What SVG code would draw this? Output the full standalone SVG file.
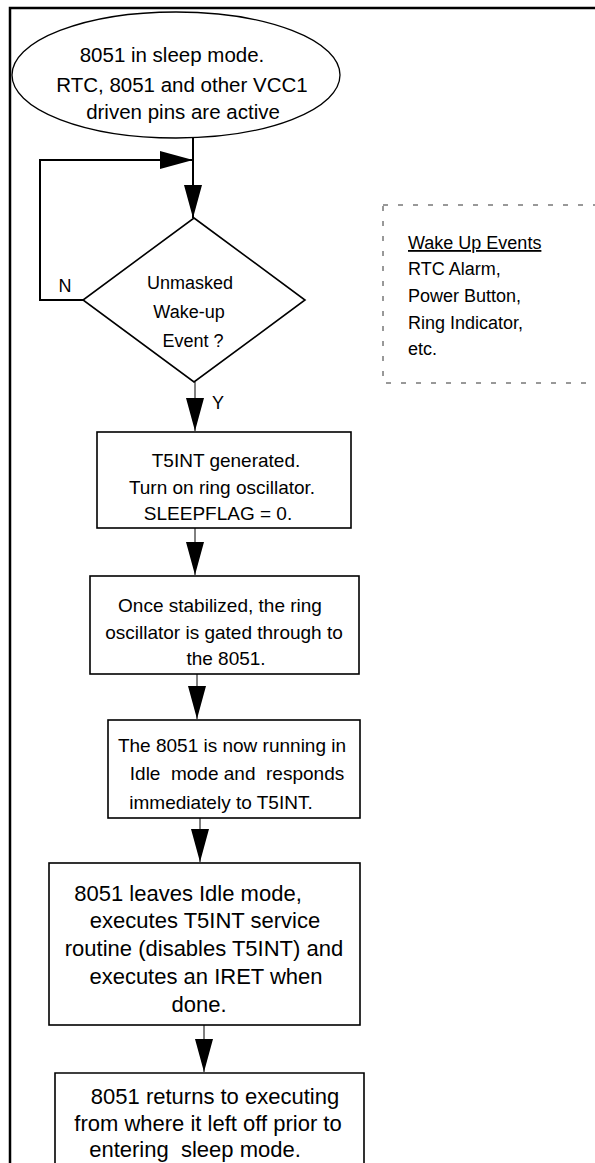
<svg xmlns="http://www.w3.org/2000/svg" width="595" height="1163" viewBox="0 0 595 1163">
<style>
text{font-family:"Liberation Sans",Arial,sans-serif;font-size:19px;fill:#000;text-anchor:middle}
.big{font-size:20.5px}
.lg{font-size:22px}
.sm{font-size:18px}
.lt{text-anchor:start}
.box{fill:#fff;stroke:#000;stroke-width:1.6}
.ln{fill:none;stroke:#000;stroke-width:1}
.thick{fill:none;stroke:#000;stroke-width:2}
</style>
<defs>
<marker id="ah" markerUnits="userSpaceOnUse" markerWidth="34" markerHeight="18" refX="33" refY="9" orient="auto">
<path d="M0,0 L33,9 L0,18 Z" fill="#000"/>
</marker>
</defs>
<rect x="10" y="8" width="600" height="1170" fill="none" stroke="#000" stroke-width="2.5"/>
<g id="connectors">
<line class="thick" x1="193" y1="137" x2="193" y2="218" marker-end="url(#ah)"/>
<polyline class="thick" points="83,300 40,300 40,160 193,160" marker-end="url(#ah)"/>
<line class="ln" x1="195" y1="382" x2="195" y2="431" marker-end="url(#ah)"/>
<line class="ln" x1="195" y1="528" x2="195" y2="575" marker-end="url(#ah)"/>
<line class="ln" x1="197" y1="674" x2="197" y2="719" marker-end="url(#ah)"/>
<line class="ln" x1="200" y1="818" x2="200" y2="862" marker-end="url(#ah)"/>
<line class="ln" x1="204" y1="1025" x2="204" y2="1072" marker-end="url(#ah)"/>
<text class="sm" x="65" y="292">N</text>
<text class="sm" x="218" y="409">Y</text>
</g>
<g id="start">
<ellipse cx="176" cy="75" rx="164" ry="63" fill="#fff" stroke="#000" stroke-width="1.3"/>
<text class="big" x="172" y="62">8051 in sleep mode.</text>
<text class="big" x="182" y="92">RTC, 8051 and other VCC1</text>
<text class="big" x="183" y="119">driven pins are active</text>
</g>
<g id="decision">
<polygon class="box" points="194,218 305,300 194,382 83,300"/>
<text class="sm" x="190" y="289">Unmasked</text>
<text class="sm" x="189" y="318">Wake-up</text>
<text class="sm" x="193" y="347">Event ?</text>
</g>
<g id="events">
<rect x="383" y="205" width="230" height="178" fill="none" stroke="#333" stroke-width="1" stroke-dasharray="5 10"/>
<text class="lt sm" x="408" y="249" text-decoration="underline">Wake Up Events</text>
<text class="lt sm" x="408" y="275">RTC Alarm,</text>
<text class="lt sm" x="408" y="302">Power Button,</text>
<text class="lt sm" x="408" y="329">Ring Indicator,</text>
<text class="lt sm" x="408" y="355">etc.</text>
</g>
<g id="box1">
<rect class="box" x="97" y="432" width="254" height="96"/>
<text x="226" y="467">T5INT generated.</text>
<text x="222" y="494">Turn on ring oscillator.</text>
<text x="218" y="520">SLEEPFLAG = 0.</text>
</g>
<g id="box2">
<rect class="box" x="90" y="576" width="269" height="98"/>
<text x="220" y="612">Once stabilized, the ring</text>
<text x="224" y="639">oscillator is gated through to</text>
<text x="226" y="665">the 8051.</text>
</g>
<g id="box3">
<rect class="box" x="108" y="720" width="252" height="98"/>
<text x="232" y="752">The 8051 is now running in</text>
<text x="237" y="780" xml:space="preserve">Idle  mode and  responds</text>
<text x="221" y="809">immediately to T5INT.</text>
</g>
<g id="box4">
<rect class="box" x="49" y="863" width="311" height="162"/>
<text class="lg" x="188" y="901">8051 leaves Idle mode,</text>
<text class="lg" x="205" y="928">executes T5INT service</text>
<text class="lg" x="204" y="956">routine (disables T5INT) and</text>
<text class="lg" x="206" y="984">executes an IRET when</text>
<text class="lg" x="199" y="1012">done.</text>
</g>
<g id="box5">
<path class="box" d="M55,1170 V1073 H364 V1170"/>
<text class="lg" x="215" y="1104">8051 returns to executing</text>
<text class="lg" x="208" y="1131">from where it left off prior to</text>
<text class="lg" x="195" y="1157" xml:space="preserve">entering  sleep mode.</text>
</g>
</svg>
